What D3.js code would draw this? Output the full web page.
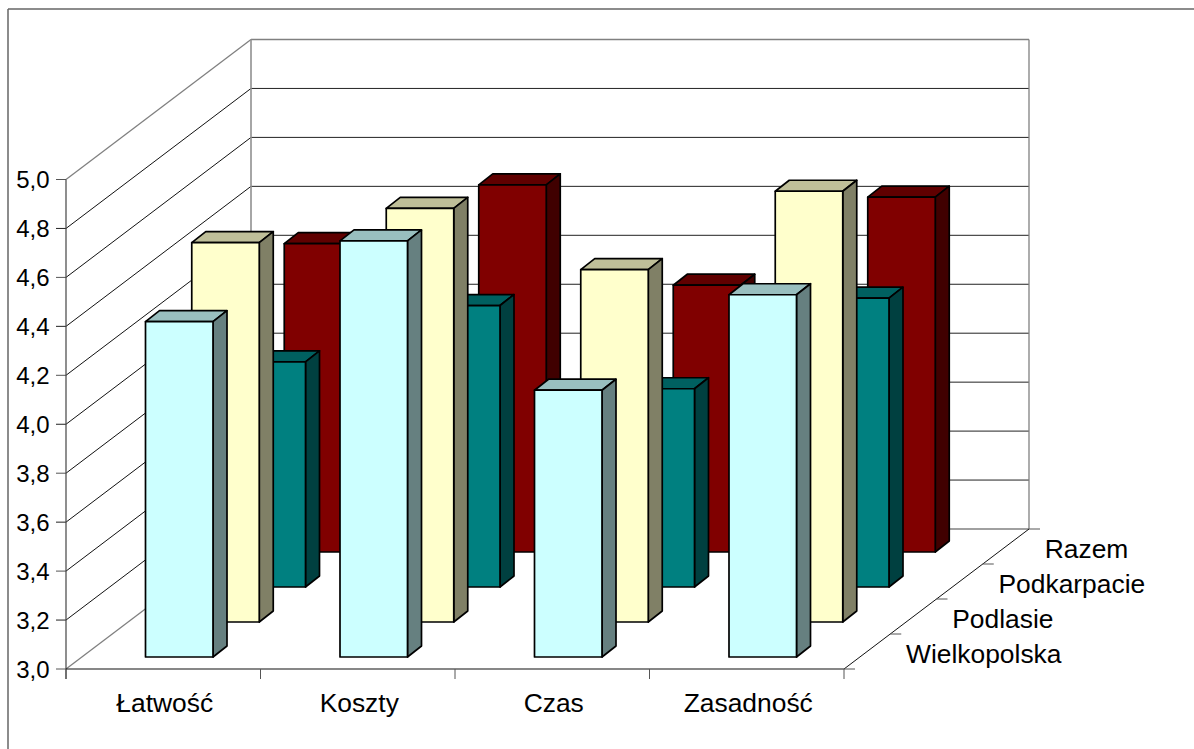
<!DOCTYPE html>
<html><head><meta charset="utf-8">
<script src="https://cdn.jsdelivr.net/npm/d3@7"></script>
<style>html,body{margin:0;padding:0;background:#fff;overflow:hidden}svg{display:block}text{font-family:"Liberation Sans",Arial,sans-serif;font-size:26.4px;fill:#000}text.yl{font-size:24px}</style>
</head><body><svg id="c" width="1194" height="749"></svg>
<script>
const categories = ["Łatwość","Koszty","Czas","Zasadność"];
const seriesNames = ["Wielkopolska","Podlasie","Podkarpacie","Razem"];
const wielkopolska = [4.37,4.70,4.09,4.48];
const podlasie = [4.55,4.69,4.44,4.76];
const podkarpacie = [3.92,4.15,3.81,4.18];
const razem = [4.26,4.50,4.09,4.45];
const yTicks = [3.0,3.2,3.4,3.6,3.8,4.0,4.2,4.4,4.6,4.8,5.0];
const seriesValues = [wielkopolska,podlasie,podkarpacie,razem];
const fronts = ["#CCFFFF","#FFFFCC","#008080","#800000"];
const tops = ["#99BFBF","#BFBF99","#006060","#600000"];
const sides = ["#668080","#808066","#004040","#400000"];

const svg = d3.select("#c");
const x = d3.scaleBand().domain(categories).range([66,844]);
const y = d3.scaleLinear().domain([3,5]).range([669,179.5]);
const z = d3.scaleLinear().domain([0,4]).range([0,1]);
const depthX = 185, depthY = 140;
const dx = s => z(s)*depthX, dy = s => z(s)*depthY;
const W = "#808080";
const line = (a,b,c,d,col,w) => svg.append("line").attr("x1",a).attr("y1",b).attr("x2",c).attr("y2",d).attr("stroke",col).attr("stroke-width",w);

// frame: only the top and left edges are inside the picture
line(8,9,1194,9,"#666",1.5);
line(8,9,8,749,"#666",1.5);

// walls and grid
const x0 = x.range()[0], x1 = x.range()[1];
yTicks.forEach((t,i)=>{
  const yy = y(t), edge = (i===0||i===yTicks.length-1);
  if(i>0){
    line(x0,yy,x0+depthX,yy-depthY,edge?W:"#111",edge?1.3:1);
    line(x0+depthX,yy-depthY,x1+depthX,yy-depthY,edge?W:"#222",edge?1.3:1);
  }
  line(x0-10,yy,x0,yy,i%2?"#222":"#555",1);
  svg.append("text").attr("class","yl").attr("x",49.5).attr("y",yy+8.5).attr("text-anchor","end").text(d3.format(".1f")(t).replace(".",","));
});
line(x0+depthX,y(3)-depthY,x1+depthX,y(3)-depthY,W,1.3);
line(x0,y(3),x0+depthX,y(3)-depthY,W,1.3);
line(x0+depthX,y(5)-depthY,x0+depthX,y(3)-depthY,"#909090",1.6);
line(x1+depthX,y(5)-depthY,x1+depthX,y(3)-depthY,W,1.3);
line(x0,y(5),x0,y(3)+10,"#444",1.2);
line(x0,y(3),x1,y(3),"#111",1.1);
line(x1,y(3),x1+depthX,y(3)-depthY,"#111",1);
categories.forEach((c,i)=>{
  line(x(c),y(3),x(c),y(3)+10,"#555",1);
  svg.append("text").attr("x",x(c)+x.bandwidth()/2+1.5).attr("y",711.5).attr("text-anchor","middle").text(c);
});
line(x1,y(3),x1,y(3)+10,"#555",1);
seriesNames.forEach((n,s)=>{
  line(x1+dx(s),y(3)-dy(s),x1+dx(s)+11,y(3)-dy(s),"#555",1);
  svg.append("text").attr("x",906+dx(s)).attr("y",662.5-dy(s)).text(n);
});
line(x1+depthX,y(3)-depthY,x1+depthX+11,y(3)-depthY,"#555",1);

// bars, back to front
const barW = 67.5, barDX = 14, barDY = 11, inX = 79.5, baseUp = 12;
d3.range(3,-1,-1).forEach(s=>{
  const g = svg.append("g");
  categories.forEach((c,i)=>{
    const l = x(c)+inX+dx(s), r = l+barW, b = y(3)-baseUp-dy(s), t = y(seriesValues[s][i])-baseUp-dy(s);
    const poly = (pts,f)=>g.append("polygon").attr("points",pts.map(p=>p.join(",")).join(" ")).attr("fill",f).attr("stroke","#000").attr("stroke-width",1.7).attr("stroke-linejoin","round");
    poly([[l,t],[r,t],[r+barDX,t-barDY],[l+barDX,t-barDY]],tops[s]);
    poly([[r,t],[r+barDX,t-barDY],[r+barDX,b-barDY],[r,b]],sides[s]);
    poly([[l,t],[r,t],[r,b],[l,b]],fronts[s]);
  });
});
</script></body></html>
